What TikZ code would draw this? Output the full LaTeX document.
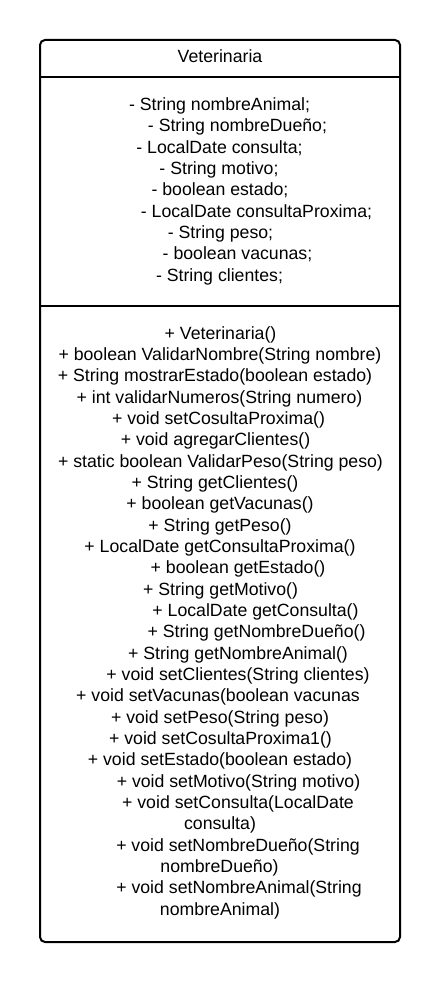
\documentclass[tikz,border=0pt]{standalone}
\usepackage{fontspec}
\setmainfont{Liberation Sans}
\usepackage{tikz}

\begin{document}
\begin{tikzpicture}[x=1pt,y=-1pt,
    member/.style={anchor=base,inner sep=0pt,font=\fontsize{17.7}{21}\selectfont}]
\useasboundingbox (0,0) rectangle (440,982);
\draw[line width=2pt,rounded corners=5pt] (40,40) rectangle (400,942);
\draw[line width=2pt] (40,77) -- (400,77);
\draw[line width=2pt] (40,306) -- (400,306);
\node[member] (title) at (220,63) {Veterinaria};
% atributos
\foreach \x/\t [count=\i] in {219.5/- String nombreAnimal;,237.5/- String nombreDueño;,
    219.5/- LocalDate consulta;,219/- String motivo;,220/- boolean estado;,
    256.5/- LocalDate consultaProxima;,220.5/- String peso;,237.5/- boolean vacunas;,
    219.5/- String clientes;}
  \node[member] (a\i) at (\x,{104+6.3+21.375*(\i-1)}) {\t};
% metodos
\foreach \x/\t [count=\i] in {220.5/+ Veterinaria(),220/+ boolean ValidarNombre(String nombre),
    215/+ String mostrarEstado(boolean estado),219.5/+ int validarNumeros(String numero),
    218.5/+ void setCosultaProxima(),215.5/+ void agregarClientes(),
    220.5/+ static boolean ValidarPeso(String peso),215/+ String getClientes(),
    220/+ boolean getVacunas(),220/+ String getPeso(),220/+ LocalDate getConsultaProxima(),
    238/+ boolean getEstado(),220.5/+ String getMotivo(),255.5/+ LocalDate getConsulta(),
    256.5/+ String getNombreDueño(),238/+ String getNombreAnimal(),
    238/+ void setClientes(String clientes),218/+ void setVacunas(boolean vacunas,
    220/+ void setPeso(String peso),220.5/+ void setCosultaProxima1(),
    220/+ void setEstado(boolean estado),238.5/+ void setMotivo(String motivo),
    238/+ void setConsulta(LocalDate,220/consulta),238/+ void setNombreDueño(String,
    219.5/nombreDueño),239/+ void setNombreAnimal(String,220/nombreAnimal)}
  \node[member] (m\i) at (\x,{333+6.3+21.333*(\i-1)}) {\t};
\end{tikzpicture}
\end{document}
